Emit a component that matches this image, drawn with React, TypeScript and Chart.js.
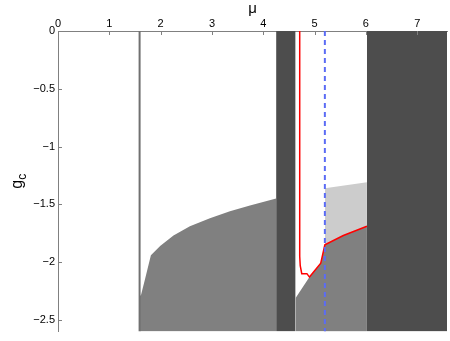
import React, { useEffect, useRef } from "react";
import { Chart, registerables } from "chart.js";

Chart.register(...registerables);

// ---- data ----
const X_MIN = 0;
const X_MAX = 7.58;
const Y_MIN = -2.6;
const Y_MAX = 0;

const xTickStep = 1;
const yTickStep = 0.5;

// medium grey region left of first dark band (upper boundary)
const leftRegionX = [1.59, 1.62, 1.7, 1.81, 1.99, 2.25, 2.57, 2.96, 3.35, 3.74, 4.25];
const leftRegionY = [-2.3, -2.28, -2.14, -1.94, -1.86, -1.77, -1.69, -1.62, -1.56, -1.51, -1.45];

// medium grey region in the white gap (upper boundary)
const rightRegionX = [4.63, 4.9, 5.12, 5.2, 5.56, 6.02];
const rightRegionY = [-2.31, -2.13, -2.01, -1.85, -1.77, -1.69];

// light grey region upper boundary
const lightRegionX = [5.2, 6.02];
const lightRegionY = [-1.36, -1.31];

// red curve
const redX = [4.71, 4.71, 4.72, 4.75, 4.85, 4.9, 5.12, 5.2, 5.56, 6.02];
const redY = [0, -1.95, -2.03, -2.1, -2.1, -2.13, -2.01, -1.85, -1.77, -1.69];

// dark bands [start, end]
const darkBand1 = [4.25, 4.63];
const darkBand2 = [6.02, 7.58];

// vertical lines
const greyLineX = 1.59;
const blueLineX = 5.2;

const pts = (xs: number[], ys: number[]) => xs.map((x, i) => ({ x, y: ys[i] }));

const FONT = "'Liberation Sans', Arial, Helvetica, sans-serif";

const fmt = (v: number) => {
  const s = String(Math.round(v * 100) / 100);
  return s.replace("-", "\u2212");
};

const insideTicks = {
  id: "insideTicks",
  afterDraw(chart: any) {
    const { ctx, chartArea, scales } = chart;
    ctx.save();
    ctx.strokeStyle = "#808080";
    ctx.lineWidth = 1;
    const xs = scales.x;
    xs.ticks.forEach((_t: any, i: number) => {
      const px = Math.round(xs.getPixelForTick(i)) + 0.5;
      ctx.beginPath();
      ctx.moveTo(px, chartArea.top);
      ctx.lineTo(px, chartArea.top + 4);
      ctx.stroke();
    });
    const ys = scales.y;
    ys.ticks.forEach((_t: any, i: number) => {
      const py = Math.round(ys.getPixelForTick(i)) + 0.5;
      ctx.beginPath();
      ctx.moveTo(chartArea.left, py);
      ctx.lineTo(chartArea.left + 4, py);
      ctx.stroke();
    });
    // y title: g with subscript c
    const cy = (chartArea.top + chartArea.bottom) / 2;
    ctx.translate(22, cy);
    ctx.rotate(-Math.PI / 2);
    ctx.fillStyle = "#000";
    ctx.textBaseline = "alphabetic";
    ctx.font = `16px ${FONT}`;
    const gW = ctx.measureText("g").width;
    ctx.font = `12px ${FONT}`;
    const cW = ctx.measureText("c").width;
    const total = gW + cW;
    ctx.font = `16px ${FONT}`;
    ctx.fillText("g", -total / 2, 0);
    ctx.font = `12px ${FONT}`;
    ctx.fillText("c", -total / 2 + gW, 4);
    ctx.restore();
  },
};

export default function App() {
  const ref = useRef<HTMLCanvasElement | null>(null);

  useEffect(() => {
    document.body.style.margin = "0";
    if (!ref.current) return;
    const base = {
      showLine: true,
      pointRadius: 0,
      pointHoverRadius: 0,
      tension: 0,
    };
    const chart = new Chart(ref.current, {
      type: "scatter",
      data: {
        datasets: [
          {
            ...base,
            label: "light",
            data: pts(lightRegionX, lightRegionY),
            borderWidth: 0,
            borderColor: "#cccccc",
            backgroundColor: "#cccccc",
            fill: "start",
            order: 10,
          },
          {
            ...base,
            label: "leftRegion",
            data: pts(leftRegionX, leftRegionY),
            borderWidth: 0,
            borderColor: "#808080",
            backgroundColor: "#808080",
            fill: "start",
            order: 9,
          },
          {
            ...base,
            label: "rightRegion",
            data: pts(rightRegionX, rightRegionY),
            borderWidth: 0,
            borderColor: "#808080",
            backgroundColor: "#808080",
            fill: "start",
            order: 8,
          },
          {
            ...base,
            label: "dark1",
            data: [
              { x: darkBand1[0], y: Y_MAX },
              { x: darkBand1[1], y: Y_MAX },
            ],
            borderWidth: 0,
            borderColor: "#4d4d4d",
            backgroundColor: "#4d4d4d",
            fill: "start",
            order: 7,
          },
          {
            ...base,
            label: "dark2",
            data: [
              { x: darkBand2[0], y: Y_MAX },
              { x: darkBand2[1], y: Y_MAX },
            ],
            borderWidth: 0,
            borderColor: "#4d4d4d",
            backgroundColor: "#4d4d4d",
            fill: "start",
            order: 7,
          },
          {
            ...base,
            label: "greyLine",
            data: [
              { x: greyLineX, y: Y_MAX },
              { x: greyLineX, y: Y_MIN },
            ],
            borderWidth: 2,
            borderColor: "#707070",
            fill: false,
            order: 6,
          },
          {
            ...base,
            label: "red",
            data: pts(redX, redY),
            borderWidth: 1.5,
            borderColor: "#ff0000",
            fill: false,
            order: 5,
          },
          {
            ...base,
            label: "blue",
            data: [
              { x: blueLineX, y: Y_MAX },
              { x: blueLineX, y: Y_MIN },
            ],
            borderWidth: 2,
            borderColor: "#5b6cf5",
            borderDash: [5, 4],
            fill: false,
            order: 4,
          },
        ],
      },
      options: {
        responsive: false,
        animation: false,
        devicePixelRatio: 1,
        layout: { padding: { left: 0, top: 0, right: 3, bottom: 4 } },
        plugins: {
          legend: { display: false },
          tooltip: { enabled: false },
        },
        scales: {
          x: {
            type: "linear",
            position: "top",
            min: X_MIN,
            max: X_MAX,
            afterFit: (s: any) => {
              s.height = 31;
            },
            ticks: {
              stepSize: xTickStep,
              includeBounds: false,
              color: "#000",
              padding: 0,
              maxRotation: 0,
              font: { family: FONT, size: 11 },
              callback: (v: any) => fmt(Number(v)),
            },
            grid: { drawOnChartArea: false, drawTicks: false },
            border: { display: true, color: "#808080", width: 1 },
            title: {
              display: true,
              text: "\u03bc",
              color: "#000",
              padding: { top: 0, bottom: 0 },
              font: { family: FONT, size: 15 },
            },
          },
          y: {
            type: "linear",
            min: Y_MIN,
            max: Y_MAX,
            afterFit: (s: any) => {
              s.width = 58;
            },
            ticks: {
              stepSize: yTickStep,
              includeBounds: false,
              color: "#000",
              padding: 3,
              font: { family: FONT, size: 11 },
              callback: (v: any) => fmt(Number(v)),
            },
            grid: { drawOnChartArea: false, drawTicks: false },
            border: { display: true, color: "#808080", width: 1 },
          },
        },
      },
      plugins: [insideTicks],
    } as any);
    return () => chart.destroy();
  }, []);

  return (
    <div style={{ width: 450, height: 341 }}>
      <canvas ref={ref} width={450} height={341} style={{ display: "block" }} />
    </div>
  );
}
